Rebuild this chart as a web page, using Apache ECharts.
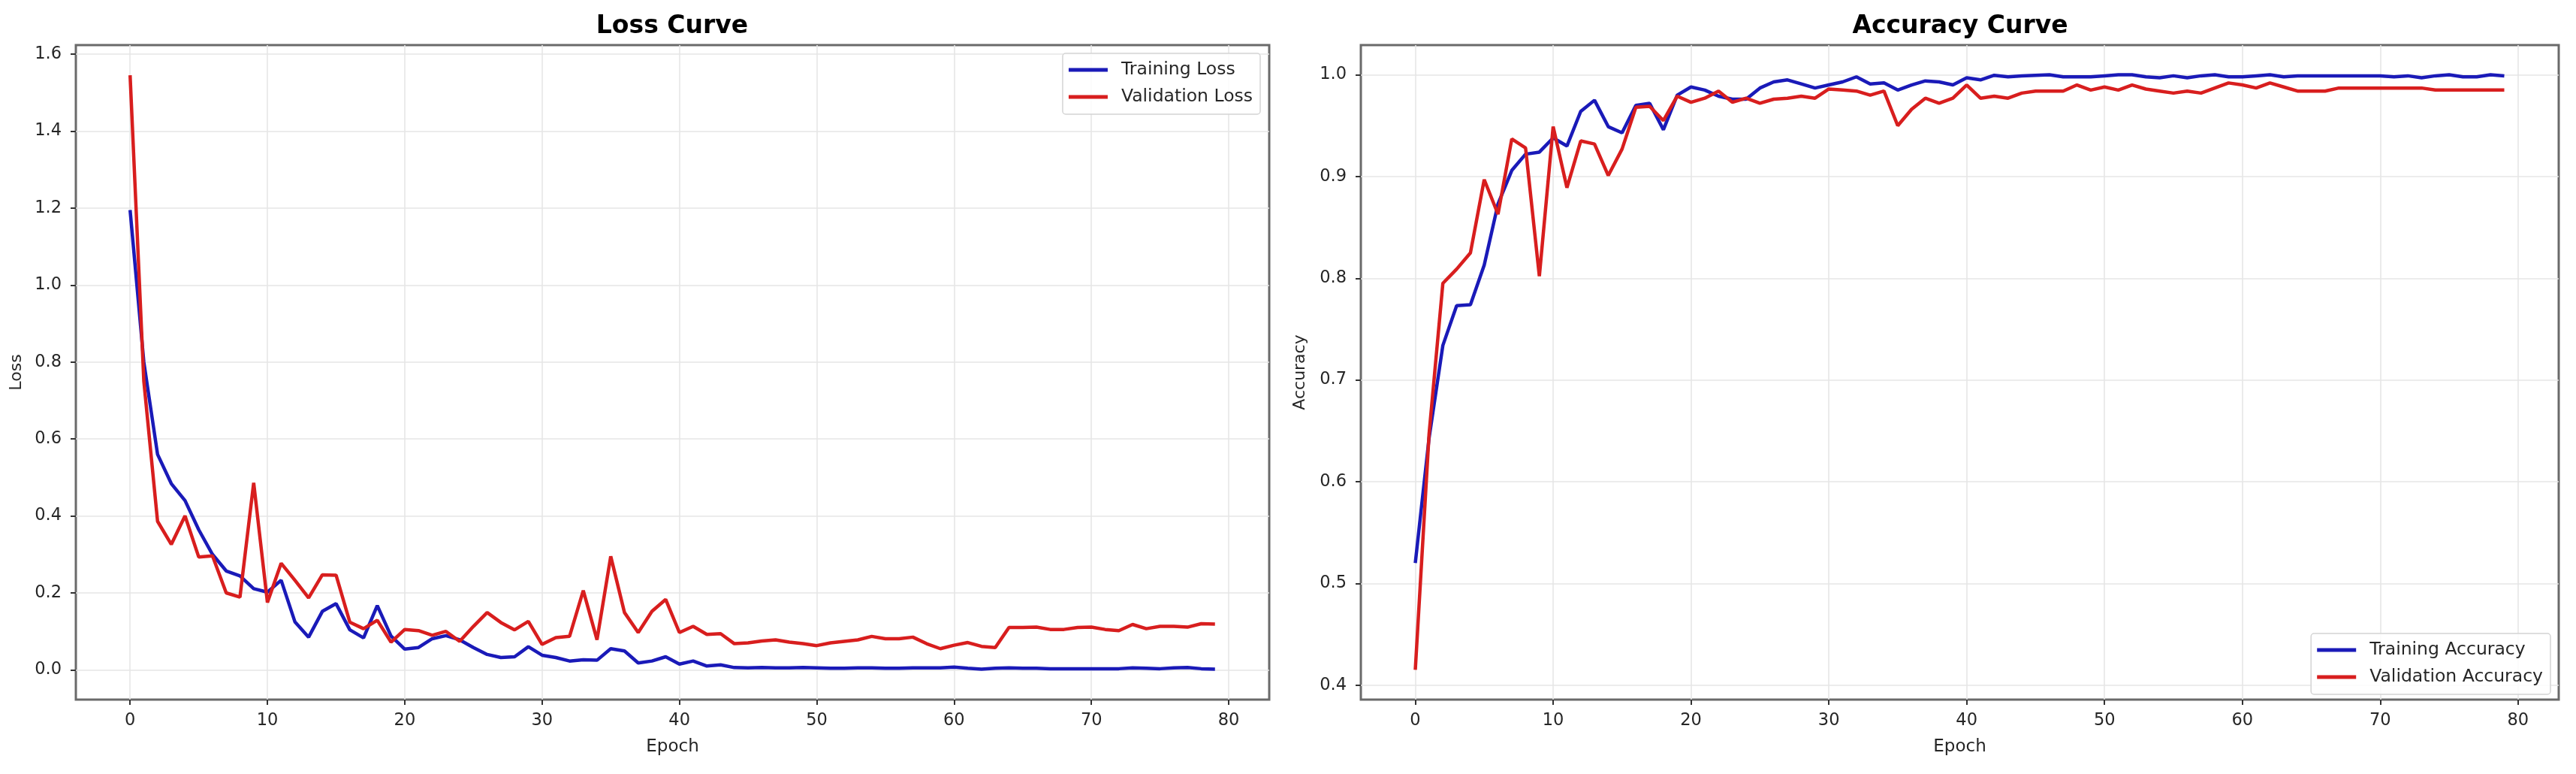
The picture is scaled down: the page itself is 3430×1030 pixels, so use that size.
<!DOCTYPE html>
<html>
<head>
<meta charset="utf-8">
<title>Loss / Accuracy curves</title>
<script src="https://cdn.jsdelivr.net/npm/echarts@6/dist/echarts.min.js"></script>
<style>
  html, body { margin: 0; padding: 0; background: #fff; }
  #chart { width: 3430px; height: 1030px; }
</style>
</head>
<body>
<div id="chart"></div>
<script>
// training history

const EPOCHS = [
  0, 1, 2, 3, 4, 5, 6, 7, 8, 9, 10, 11, 12, 13, 14, 15, 16, 17, 18, 19,
  20, 21, 22, 23, 24, 25, 26, 27, 28, 29, 30, 31, 32, 33, 34, 35, 36, 37, 38, 39,
  40, 41, 42, 43, 44, 45, 46, 47, 48, 49, 50, 51, 52, 53, 54, 55, 56, 57, 58, 59,
  60, 61, 62, 63, 64, 65, 66, 67, 68, 69, 70, 71, 72, 73, 74, 75, 76, 77, 78, 79,
];

const TRAIN_LOSS = [
  1.195, 0.80, 0.56, 0.484, 0.44, 0.364, 0.30, 0.257, 0.244, 0.211,
  0.202, 0.233, 0.125, 0.085, 0.152, 0.172, 0.104, 0.083, 0.167, 0.088,
  0.054, 0.058, 0.081, 0.089, 0.078, 0.058, 0.040, 0.032, 0.034, 0.060,
  0.038, 0.032, 0.023, 0.026, 0.025, 0.055, 0.049, 0.018, 0.023, 0.034,
  0.015, 0.023, 0.010, 0.013, 0.006, 0.005, 0.006, 0.005, 0.005, 0.006,
  0.005, 0.004, 0.004, 0.005, 0.005, 0.004, 0.004, 0.005, 0.005, 0.005,
  0.007, 0.004, 0.002, 0.004, 0.005, 0.004, 0.004, 0.003, 0.003, 0.003,
  0.003, 0.003, 0.003, 0.005, 0.004, 0.003, 0.005, 0.006, 0.003, 0.002,
];

const VAL_LOSS = [
  1.545, 0.75, 0.386, 0.326, 0.40, 0.293, 0.296, 0.20, 0.189, 0.486,
  0.175, 0.277, 0.233, 0.187, 0.247, 0.246, 0.124, 0.107, 0.129, 0.072,
  0.105, 0.102, 0.090, 0.100, 0.074, 0.113, 0.149, 0.123, 0.104, 0.126,
  0.066, 0.084, 0.087, 0.206, 0.078, 0.295, 0.149, 0.097, 0.152, 0.183,
  0.097, 0.113, 0.092, 0.094, 0.068, 0.070, 0.075, 0.078, 0.072, 0.068,
  0.063, 0.070, 0.074, 0.078, 0.087, 0.081, 0.081, 0.085, 0.068, 0.055,
  0.064, 0.071, 0.061, 0.058, 0.110, 0.110, 0.111, 0.105, 0.105, 0.110,
  0.111, 0.105, 0.102, 0.118, 0.107, 0.113, 0.113, 0.111, 0.120, 0.119,
];

const TRAIN_ACC = [
  0.520, 0.643, 0.734, 0.773, 0.774, 0.813, 0.873, 0.906, 0.922, 0.924,
  0.938, 0.930, 0.964, 0.975, 0.949, 0.943, 0.970, 0.972, 0.946, 0.980,
  0.988, 0.985, 0.979, 0.976, 0.976, 0.987, 0.993, 0.995, 0.991, 0.987,
  0.990, 0.993, 0.998, 0.991, 0.992, 0.985, 0.990, 0.994, 0.993, 0.990,
  0.997, 0.995, 0.9995, 0.998, 0.999, 0.9995, 1.000, 0.998, 0.998, 0.998,
  0.999, 1.000, 1.000, 0.998, 0.997, 0.999, 0.997, 0.999, 1.000, 0.998,
  0.998, 0.999, 1.000, 0.998, 0.999, 0.999, 0.999, 0.999, 0.999, 0.999,
  0.999, 0.998, 0.999, 0.997, 0.999, 1.000, 0.998, 0.998, 1.000, 0.999,
];

const VAL_ACC = [
  0.415, 0.647, 0.795, 0.809, 0.825, 0.897, 0.863, 0.937, 0.928, 0.802,
  0.949, 0.889, 0.935, 0.932, 0.901, 0.927, 0.968, 0.969, 0.955, 0.979,
  0.973, 0.977, 0.984, 0.973, 0.977, 0.972, 0.976, 0.977, 0.979, 0.977,
  0.986, 0.985, 0.984, 0.980, 0.984, 0.950, 0.966, 0.977, 0.972, 0.977,
  0.990, 0.977, 0.979, 0.977, 0.982, 0.984, 0.984, 0.984, 0.990, 0.985,
  0.988, 0.985, 0.990, 0.986, 0.984, 0.982, 0.984, 0.982, 0.987, 0.992,
  0.990, 0.987, 0.992, 0.988, 0.984, 0.984, 0.984, 0.987, 0.987, 0.987,
  0.987, 0.987, 0.987, 0.987, 0.985, 0.985, 0.985, 0.985, 0.985, 0.985,
];

const X_TICKS = [0, 10, 20, 30, 40, 50, 60, 70, 80];
const LOSS_TICKS = [0, 0.2, 0.4, 0.6, 0.8, 1.0, 1.2, 1.4, 1.6];
const ACC_TICKS = [0.4, 0.5, 0.6, 0.7, 0.8, 0.9, 1.0];

const BLUE = '#1a1ab8';
const RED = '#d81e1e';
const FONT = '"DejaVu Sans", sans-serif';
const INK = '#262626';

const pairs = ys => EPOCHS.map((x, i) => [x, ys[i]]);

const X_AXIS = ticks => ({
  type: 'value',
  min: -3.95, max: 82.95,
  name: 'Epoch', nameLocation: 'middle', nameGap: 52,
  nameTextStyle: { color: INK, fontFamily: FONT, fontSize: 23 },
  axisLine: { show: false, onZero: false },
  axisTick: { show: true, customValues: ticks, length: 7, lineStyle: { color: '#333', width: 2 } },
  axisLabel: { customValues: ticks, margin: 17, color: INK, fontFamily: FONT, fontSize: 22.5 },
  splitLine: { show: true, lineStyle: { color: '#e6e6e6', width: 1.6 } },
});

const Y_AXIS = (name, min, max, ticks) => ({
  type: 'value',
  min, max,
  name, nameLocation: 'middle', nameGap: 68,
  nameTextStyle: { color: INK, fontFamily: FONT, fontSize: 22 },
  axisLine: { show: false, onZero: false },
  axisTick: { show: true, customValues: ticks, length: 7, lineStyle: { color: '#333', width: 2 } },
  axisLabel: { customValues: ticks, margin: 19, color: INK, fontFamily: FONT, fontSize: 22.5, formatter: v => v.toFixed(1) },
  splitLine: { show: true, lineStyle: { color: '#e6e6e6', width: 1.6 } },
});

const GRID = { show: true, borderColor: '#6a6a6a', borderWidth: 3, backgroundColor: '#fff', top: 60, bottom: 99 };

const LEGEND = {
  orient: 'vertical',
  icon: 'rect',
  itemWidth: 52, itemHeight: 5,
  itemGap: 10,
  padding: [9, 10, 10, 8],
  backgroundColor: 'rgba(255,255,255,0.85)',
  borderColor: '#d4d4d4', borderWidth: 1.5, borderRadius: 4,
  textStyle: { color: INK, fontFamily: FONT, fontSize: 23.5, lineHeight: 26, padding: [0, 0, 0, 13] },
  selectedMode: false,
};

const line = (name, data, color, axis) => ({
  name, type: 'line', data: pairs(data),
  xAxisIndex: axis, yAxisIndex: axis,
  showSymbol: false, symbol: 'none',
  lineStyle: { color, width: 4.5 },
  itemStyle: { color },
  emphasis: { disabled: true },
});

const chart = echarts.init(document.getElementById('chart'), null, { renderer: 'canvas' });

chart.setOption({
  animation: false,
  backgroundColor: '#fff',
  textStyle: { fontFamily: FONT },
  graphic: [
    { type: 'text', x: 895, y: 35, style: { text: 'Loss Curve', align: 'center', verticalAlign: 'middle', font: `bold 33px ${FONT}`, fill: '#000' } },
    { type: 'text', x: 2610, y: 35, style: { text: 'Accuracy Curve', align: 'center', verticalAlign: 'middle', font: `bold 33px ${FONT}`, fill: '#000' } },
  ],
  grid: [
    { ...GRID, left: 101, right: 1740 },
    { ...GRID, left: 1812, right: 23 },
  ],
  xAxis: [
    { ...X_AXIS(X_TICKS), gridIndex: 0 },
    { ...X_AXIS(X_TICKS), gridIndex: 1 },
  ],
  yAxis: [
    { ...Y_AXIS('Loss', -0.0773, 1.6235, LOSS_TICKS), gridIndex: 0 },
    { ...Y_AXIS('Accuracy', 0.3858, 1.0292, ACC_TICKS), gridIndex: 1, nameGap: 70 },
  ],
  legend: [
    { ...LEGEND, data: ['Training Loss', 'Validation Loss'], right: 1752, top: 71 },
    { ...LEGEND, data: ['Training Accuracy', 'Validation Accuracy'], right: 34, bottom: 106 },
  ],
  series: [
    line('Training Loss', TRAIN_LOSS, BLUE, 0),
    line('Validation Loss', VAL_LOSS, RED, 0),
    line('Training Accuracy', TRAIN_ACC, BLUE, 1),
    line('Validation Accuracy', VAL_ACC, RED, 1),
  ],
});
</script>
</body>
</html>
